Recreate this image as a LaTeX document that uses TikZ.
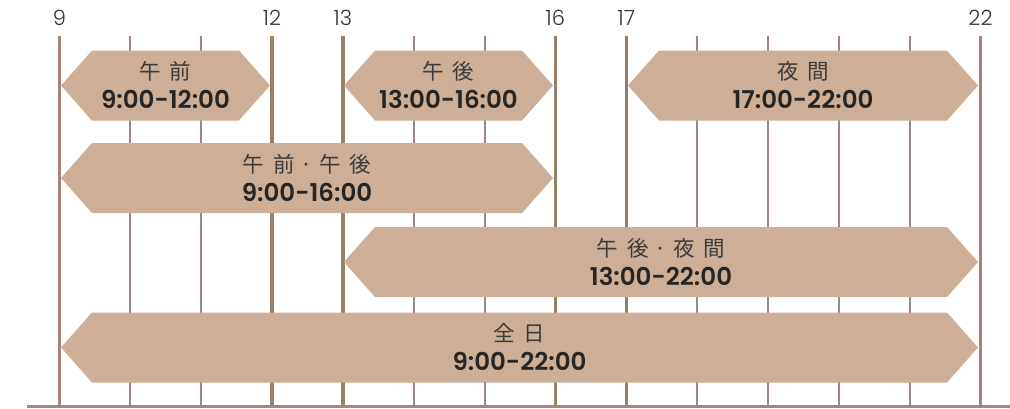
\documentclass[tikz,border=0pt]{standalone}
\usepackage{fontspec}
\newfontfamily\jpfont{Noto Sans CJK JP}
\newfontfamily\numfont{Poppins}[BoldFont={* SemiBold}]
\newfontfamily\hourfont{Poppins Light}
\definecolor{barcol}{HTML}{CDAE96}
\definecolor{lineA}{HTML}{A3827F}
\definecolor{lineB}{HTML}{97806A}
\definecolor{lineC}{HTML}{A08583}
\definecolor{jpgray}{HTML}{3C3C3C}
\definecolor{numdark}{HTML}{262626}
\definecolor{hourgray}{HTML}{333333}
\newcommand\jgap{\hspace{9pt}}
\newcommand\hexbar[3]{%
  \fill[barfill] (#1,#3) -- (#1+31,#3-35) -- (#2-31,#3-35) -- (#2,#3)
    -- (#2-31,#3+35) -- (#1+31,#3+35) -- cycle;}
\begin{document}
\begin{tikzpicture}[x=1pt,y=-1pt,
  majorA/.style={draw=lineA, line width=3.5pt},
  majorB/.style={draw=lineB, line width=3.5pt},
  minorl/.style={draw=lineC, line width=2pt},
  baseln/.style={draw=lineC, line width=3pt},
  barfill/.style={fill=barcol},
  jptext/.style={font=\jpfont\fontsize{21.5}{21.5}\selectfont, text=jpgray, anchor=base, inner sep=0pt},
  numtext/.style={font=\numfont\bfseries\fontsize{24.5}{24.5}\selectfont, text=numdark, anchor=base, inner sep=0pt},
  hourlabel/.style={font=\hourfont\fontsize{21}{21}\selectfont, text=hourgray, anchor=base, inner sep=0pt}]
\useasboundingbox (0,0) rectangle (1010,408);
% hour lines
\foreach \h/\x in {10/130.4,11/201.2,14/413.7,15/484.6,18/697,19/768,20/838.8,21/909.7}{
  \coordinate (t\h) at (\x,36); \coordinate (b\h) at (\x,406);
  \draw[minorl] (t\h) -- (b\h);}
\foreach \h/\x in {12/272,13/342.9,16/555.4,17/626.3}{
  \coordinate (t\h) at (\x,36); \coordinate (b\h) at (\x,406);
  \draw[majorB] (t\h) -- (b\h);
  \node[hourlabel] (l\h) at (\x,25) {\h};}
\foreach \h/\x in {9/59.5,22/980.5}{
  \coordinate (t\h) at (\x,36); \coordinate (b\h) at (\x,406);
  \draw[majorA] (t\h) -- (b\h);
  \node[hourlabel] (l\h) at (\x,25) {\h};}
% baseline
\coordinate (bl) at (27,406.5); \coordinate (br) at (1010,406.5);
\draw[baseln] (bl) -- (br);
% bars
\hexbar{61}{270}{85.5}
\hexbar{344}{553}{85.5}
\hexbar{628}{978}{85.5}
\hexbar{61}{553}{178}
\hexbar{344}{978}{262}
\hexbar{61}{978}{347.5}
% texts
\node[jptext] (am) at (165.5,79) {午\jgap 前};
\node[numtext] (amt) at (165.5,108) {9:00-12:00};
\node[jptext] (pm) at (448.5,79) {午\jgap 後};
\node[numtext] (pmt) at (448.5,108) {13:00-16:00};
\node[jptext] (ev) at (803,79) {夜\jgap 間};
\node[numtext] (evt) at (803,108) {17:00-22:00};
\node[jptext] (ampm) at (307,172) {午\jgap 前\hspace{6pt}·\hspace{6pt}午\jgap 後};
\node[numtext] (ampmt) at (307,201) {9:00-16:00};
\node[jptext] (pmev) at (661,256) {午\jgap 後\hspace{6pt}·\hspace{6pt}夜\jgap 間};
\node[numtext] (pmevt) at (661,285) {13:00-22:00};
\node[jptext] (day) at (519.5,341) {全\jgap 日};
\node[numtext] (dayt) at (519.5,370) {9:00-22:00};
\end{tikzpicture}
\end{document}
